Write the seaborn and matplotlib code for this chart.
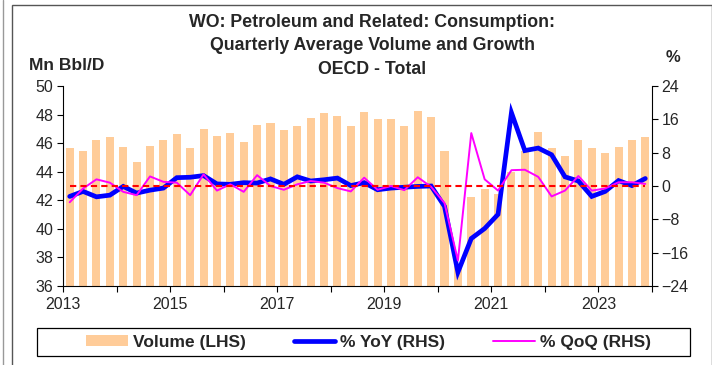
import matplotlib
matplotlib.use("Agg")
import matplotlib.pyplot as plt
from matplotlib.patches import Patch, Rectangle
from matplotlib.lines import Line2D
import numpy as np
import pandas as pd
import seaborn as sns

# Quarterly data, 2013Q1 .. 2023Q4
quarters = [f"{y}Q{q}" for y in range(2013, 2024) for q in range(1, 5)]

volume = [45.66, 45.47, 46.22, 46.41, 45.70, 44.71, 45.77, 46.22,
          46.67, 45.68, 47.00, 46.53, 46.74, 46.08, 47.29, 47.38,
          46.93, 47.17, 47.76, 48.11, 47.88, 47.17, 48.16, 47.69,
          47.69, 47.19, 48.23, 47.80, 45.47, 37.40, 42.21, 42.82,
          42.45, 44.00, 45.47, 46.81, 45.63, 45.09, 46.20, 45.66,
          45.28, 45.70, 46.22, 46.46]

yoy = [-2.5, -1.3, -2.6, -2.2, -0.1, -1.7, -1.0, -0.5,
       2.0, 2.1, 2.5, 0.5, 0.4, 0.8, 0.7, 1.7,
       0.4, 2.2, 1.2, 1.5, 1.9, 0.1, 0.8, -0.9,
       -0.5, -0.3, -0.1, 0.0, -4.9, -20.7, -12.6, -10.2,
       -6.8, 17.6, 8.5, 9.1, 7.5, 2.2, 1.2, -2.5,
       -1.3, 1.3, 0.1, 1.8]

qoq = [-3.9, -0.6, 1.6, 0.8, -1.4, -2.2, 2.3, 1.0,
       0.8, -2.2, 2.8, -1.1, 0.4, -1.4, 2.6, 0.0,
       -0.9, 0.4, 1.2, 0.8, -0.5, -1.3, 2.0, -0.9,
       0.0, -1.0, 2.1, -0.2, -4.1, -17.9, 12.7, 1.6,
       -1.1, 3.8, 3.9, 2.2, -2.5, -1.1, 2.4, -1.1,
       -0.6, 0.9, 0.9, 0.5]

years = list(range(2013, 2025))
year_labels = [str(y) if y % 2 == 1 and y < 2024 else "" for y in years]

df = pd.DataFrame({"quarter": quarters, "volume": volume,
                   "yoy": yoy, "qoq": qoq})
df["pos"] = np.arange(len(df))
df["zero"] = 0.0

sns.set_theme(style="white")
plt.rcParams["font.family"] = ["Liberation Sans", "DejaVu Sans"]

W, H = 712, 365
fig = plt.figure(figsize=(W / 100, H / 100), dpi=100)
ax = fig.add_axes([63 / W, 1 - 286 / H, (652 - 63) / W, 200 / H])

# Volume bars on the left axis
sns.barplot(data=df, x="pos", y="volume", color="#FFCC99", saturation=1,
            width=0.6, ax=ax, native_scale=True, linewidth=0)
ax.set_ylim(36, 50)
ax.set_yticks(np.arange(36, 51, 2))
ax.set_xlim(-0.5, len(df) - 0.5)
ax.set_xticks([-0.5 + 4 * i for i in range(len(years))])
ax.set_xticklabels(year_labels)
ax.set_xlabel("")
ax.set_ylabel("")

# Growth lines on the right axis
ax2 = ax.twinx()
sns.lineplot(data=df, x="pos", y="yoy", color="#0000FF", lw=3.4, ax=ax2,
             solid_joinstyle="miter")
sns.lineplot(data=df, x="pos", y="qoq", color="#FF00FF", lw=1.4, ax=ax2)
sns.lineplot(data=df, x="pos", y="zero", color="#FF0000", lw=1.5,
             linestyle=(0, (3, 2)), ax=ax2)
ax2.set_ylim(-24, 24)
ax2.set_yticks(np.arange(-24, 25, 8))
ax2.set_ylabel("")
ax2.set_xlabel("")
ax2.set_xlim(-0.5, len(df) - 0.5)

for a in (ax, ax2):
    a.spines["top"].set_visible(False)
    for s in ("left", "right", "bottom"):
        a.spines[s].set_color("#000000")
        a.spines[s].set_linewidth(0.8)
ax2.spines["left"].set_visible(False)
ax2.spines["bottom"].set_visible(False)
ax.spines["right"].set_visible(False)

ax.tick_params(axis="y", direction="out", length=4, width=0.8, color="black",
               labelsize=11.5, pad=3, left=True)
ax.tick_params(axis="x", direction="out", length=4, width=0.8, color="black",
               labelsize=11.5, pad=4, bottom=True)
ax2.tick_params(axis="y", direction="out", length=4, width=0.8, color="black",
                labelsize=11.5, pad=3, right=True)

# Titles and axis captions
fig.text(372 / W, 1 - 46 / H,
         "WO: Petroleum and Related: Consumption:\nQuarterly Average Volume and Growth\nOECD - Total",
         ha="center", va="center", fontsize=12.8, fontweight="bold",
         linespacing=1.5)
fig.text(29 / W, 1 - 65 / H, "Mn Bbl/D", ha="left", va="center",
         fontsize=12.5, fontweight="bold")
fig.text(666 / W, 1 - 57 / H, "%", ha="left", va="center",
         fontsize=12, fontweight="bold")

# Legend box and entries
fig.add_artist(Rectangle((37 / W, 1 - 356 / H), (690 - 37) / W, 28 / H,
                         transform=fig.transFigure, fill=False,
                         edgecolor="#000000", lw=0.9))
handles = [Patch(facecolor="#FFCC99", edgecolor="none"),
           Line2D([], [], color="#0000FF", lw=3.4),
           Line2D([], [], color="#FF00FF", lw=1.4)]
labels = ["Volume (LHS)", "% YoY (RHS)", "% QoQ (RHS)"]
leg = fig.legend(handles, labels, loc="center",
                 bbox_to_anchor=(368.5 / W, 1 - 342 / H),
                 ncol=3, frameon=False,
                 prop={"weight": "bold", "size": 12.5}, handlelength=2.4,
                 handleheight=0.55, handletextpad=0.3, borderaxespad=0,
                 borderpad=0.2, columnspacing=2.75)

# Outer frame lines
fig.add_artist(Rectangle((12 / W, -0.05), (711.5 - 12) / W, 1.05 - 5 / H,
                         transform=fig.transFigure, fill=False,
                         edgecolor="#555555", lw=1.0))
fig.add_artist(Line2D([3 / W, 3 / W], [0, 1], transform=fig.transFigure,
                      color="#999999", lw=1.0))

fig.savefig("out.png", dpi=100)
